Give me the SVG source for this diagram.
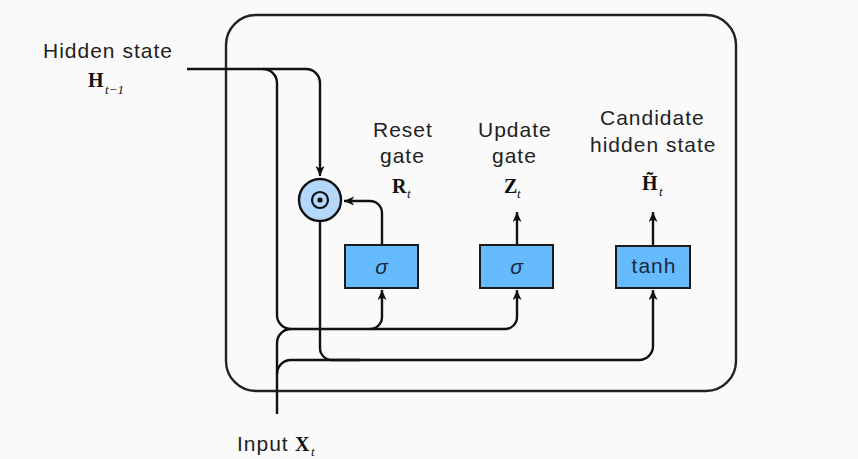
<svg xmlns="http://www.w3.org/2000/svg" width="858" height="459" viewBox="0 0 858 459">
<defs>
<marker id="arr" markerUnits="userSpaceOnUse" markerWidth="12" markerHeight="10" refX="10" refY="4.5" orient="auto">
<path d="M0,0 L10,4.5 L0,9 L2.5,4.5 z" fill="#111"/>
</marker>
<style>
.lbl{font-family:"Liberation Sans",Arial,sans-serif;font-size:21px;letter-spacing:1px;fill:#222}
.m{font-family:"Liberation Serif","Times New Roman",serif;font-weight:bold;font-size:20px;fill:#111}
.sub{font-family:"Liberation Serif","Times New Roman",serif;font-style:italic;font-size:13px;fill:#111}
.box{fill:#66bbff;stroke:#1a1a1a;stroke-width:2}
.fn{font-family:"Liberation Sans",Arial,sans-serif;font-size:21px;letter-spacing:1px;fill:#1a2a3a;text-anchor:middle}
.ln{fill:none;stroke:#111;stroke-width:2.4}
</style>
</defs>
<rect width="858" height="459" fill="#fafafa"/>
<g id="frame">
<rect x="226" y="15" width="510" height="376" rx="30" ry="30" fill="none" stroke="#222" stroke-width="2.4"/>
</g>
<g id="connectors">
<path class="ln" d="M187,69 H306 A14,14 0 0 1 320,83 V176" marker-end="url(#arr)"/>
<path class="ln" d="M263,69 A14,14 0 0 1 277,83 V315 A14,14 0 0 0 291,329"/>
<path class="ln" d="M277,414 V343 A14,14 0 0 1 291,329 H370 A12,12 0 0 0 382,317 V290" marker-end="url(#arr)"/>
<path class="ln" d="M370,329 H505 A12,12 0 0 0 517,317 V290" marker-end="url(#arr)"/>
<path class="ln" d="M277,374 A14,14 0 0 1 291,360 H639 A14,14 0 0 0 653,346 V290" marker-end="url(#arr)"/>
<path class="ln" d="M320,221 V348 A12,12 0 0 0 332,360 H360"/>
<path class="ln" d="M382,245 V213 A12,12 0 0 0 370,201 H344" marker-end="url(#arr)"/>
<path class="ln" d="M517,245 V212" marker-end="url(#arr)"/>
<path class="ln" d="M653,246 V212" marker-end="url(#arr)"/>
</g>
<g id="hidden-state-in">
<text class="lbl" x="43" y="58">Hidden state</text>
<text class="m" x="88" y="87">H</text>
<text class="sub" x="105" y="94">t−1</text>
</g>
<g id="hadamard">
<circle cx="320" cy="200" r="21" fill="#b3d8fc" stroke="#111" stroke-width="2.4"/>
<circle cx="320" cy="200" r="8" fill="none" stroke="#111" stroke-width="2.2"/>
<circle cx="320" cy="200" r="2.6" fill="#111"/>
</g>
<g id="reset-gate">
<rect class="box" x="345" y="245" width="73" height="43"/>
<text class="fn" x="381.5" y="274" font-style="italic" style="letter-spacing:0">σ</text>
<text class="lbl" x="373" y="137">Reset</text>
<text class="lbl" x="380" y="163">gate</text>
<text class="m" x="392" y="193">R</text>
<text class="sub" x="407" y="198">t</text>
</g>
<g id="update-gate">
<rect class="box" x="480" y="245" width="73" height="43"/>
<text class="fn" x="516.5" y="274" font-style="italic" style="letter-spacing:0">σ</text>
<text class="lbl" x="478" y="137">Update</text>
<text class="lbl" x="492" y="163">gate</text>
<text class="m" x="504" y="193">Z</text>
<text class="sub" x="517" y="198">t</text>
</g>
<g id="candidate">
<rect class="box" x="616" y="246" width="74" height="42"/>
<text class="fn" x="654" y="273">tanh</text>
<text class="lbl" x="600" y="125">Candidate</text>
<text class="lbl" x="590" y="152">hidden state</text>
<text class="m" x="642" y="190">H&#x0303;</text>
<text class="sub" x="659" y="196">t</text>
</g>
<g id="input">
<text class="lbl" x="237" y="451">Input</text>
<text class="m" x="295" y="451">X</text>
<text class="sub" x="311" y="456">t</text>
</g>
</svg>
